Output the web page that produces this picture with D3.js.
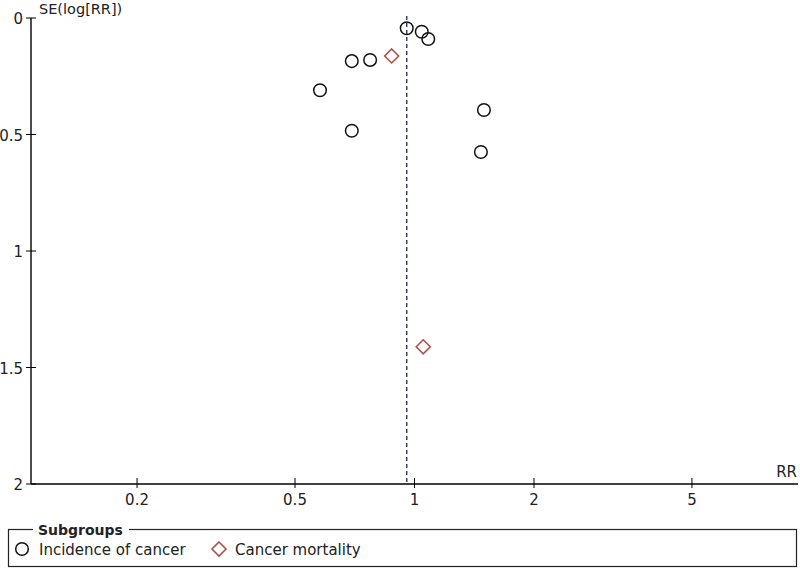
<!DOCTYPE html>
<html>
<head>
<meta charset="utf-8">
<script src="https://cdn.jsdelivr.net/npm/d3@7"></script>
<style>
  html, body { margin: 0; padding: 0; background: #fff; }
  svg { display: block; font-family: "DejaVu Sans", Verdana, sans-serif; }
</style>
</head>
<body>
<svg id="chart" width="800" height="568"></svg>
<script>
// Study estimates
const incidenceRR = [0.956, 1.043, 1.083, 0.695, 0.773, 0.578, 1.496, 0.695, 1.470];
const incidenceSE = [0.044, 0.059, 0.090, 0.185, 0.180, 0.310, 0.395, 0.484, 0.575];
const mortalityRR = [0.876, 1.052];
const mortalitySE = [0.163, 1.411];
const pooledRR = 0.956;

const xTicks = [0.2, 0.5, 1, 2, 5];
const yTicks = [0, 0.5, 1, 1.5, 2];
const subgroups = ['Incidence of cancer', 'Cancer mortality'];

const svg = d3.select('#chart');
const fs = 15;

// scales: log RR on x, SE (inverted) on y
const x = d3.scaleLog().domain([1 / 9.25, 9.25]).range([31, 798]);
const y = d3.scaleLinear().domain([0, 2]).range([18, 484]);

// y axis
const yAxis = svg.append('g').attr('transform', 'translate(31,0)');
yAxis.append('line').attr('y1', y(0)).attr('y2', y(2)).attr('stroke', '#000').attr('stroke-width', 1.4);
yAxis.selectAll('.yt').data(yTicks).join('line')
  .attr('x1', -5).attr('x2', 5)
  .attr('y1', d => y(d)).attr('y2', d => y(d))
  .attr('stroke', '#000');
yAxis.selectAll('.yl').data(yTicks).join('text')
  .attr('x', -8).attr('y', d => y(d) + 6)
  .attr('text-anchor', 'end').attr('font-size', fs).attr('fill', '#222')
  .text(d => d);
svg.append('text').attr('x', 39).attr('y', 14).attr('font-size', 14.5).attr('fill', '#222')
  .text('SE(log[RR])');

// x axis
const xAxis = svg.append('g').attr('transform', 'translate(0,' + y(2) + ')');
xAxis.append('line').attr('x1', 31).attr('x2', 798).attr('stroke', '#000').attr('stroke-width', 1.4);
xAxis.selectAll('.xt').data(xTicks).join('line')
  .attr('x1', d => x(d)).attr('x2', d => x(d))
  .attr('y1', -6).attr('y2', 4)
  .attr('stroke', '#000');
xAxis.selectAll('.xl').data(xTicks).join('text')
  .attr('x', d => x(d)).attr('y', 21)
  .attr('text-anchor', 'middle').attr('font-size', fs).attr('fill', '#222')
  .text(d => d);
svg.append('text').attr('x', 797).attr('y', y(2) - 7).attr('text-anchor', 'end')
  .attr('font-size', fs).attr('fill', '#222').text('RR');

// pooled estimate line
svg.append('line')
  .attr('x1', x(pooledRR)).attr('x2', x(pooledRR))
  .attr('y1', y(0) - 2).attr('y2', y(2))
  .attr('stroke', '#333366').attr('stroke-width', 1.4)
  .attr('stroke-dasharray', '4,3');

// points
const incidence = incidenceRR.map((rr, i) => ({ rr, se: incidenceSE[i] }));
const mortality = mortalityRR.map((rr, i) => ({ rr, se: mortalitySE[i] }));

svg.selectAll('.inc').data(incidence).join('circle')
  .attr('cx', d => x(d.rr)).attr('cy', d => y(d.se)).attr('r', 6.3)
  .attr('fill', 'none').attr('stroke', '#111').attr('stroke-width', 1.5);

const diamond = d3.symbol().type(d3.symbolDiamond2).size(125);
svg.selectAll('.mort').data(mortality).join('path')
  .attr('d', diamond)
  .attr('transform', d => 'translate(' + x(d.rr) + ',' + y(d.se) + ')')
  .attr('fill', 'none').attr('stroke', '#b0504a').attr('stroke-width', 1.6);

// legend
const lg = svg.append('g');
lg.append('rect').attr('x', 8.5).attr('y', 529.5).attr('width', 788).attr('height', 37)
  .attr('fill', 'none').attr('stroke', '#222').attr('stroke-width', 1.2);
lg.append('rect').attr('x', 33).attr('y', 520).attr('width', 96).attr('height', 18).attr('fill', '#fff');
lg.append('text').attr('x', 38).attr('y', 535).attr('font-size', 14).attr('font-weight', 'bold')
  .attr('fill', '#222').text('Subgroups');
lg.append('circle').attr('cx', 22).attr('cy', 549).attr('r', 6.3)
  .attr('fill', 'none').attr('stroke', '#111').attr('stroke-width', 1.5);
lg.append('text').attr('x', 39).attr('y', 555).attr('font-size', fs).attr('fill', '#222').text(subgroups[0]);
lg.append('path').attr('d', diamond).attr('transform', 'translate(219,549)')
  .attr('fill', 'none').attr('stroke', '#b0504a').attr('stroke-width', 1.6);
lg.append('text').attr('x', 235).attr('y', 555).attr('font-size', fs).attr('fill', '#222').text(subgroups[1]);
</script>
</body>
</html>
